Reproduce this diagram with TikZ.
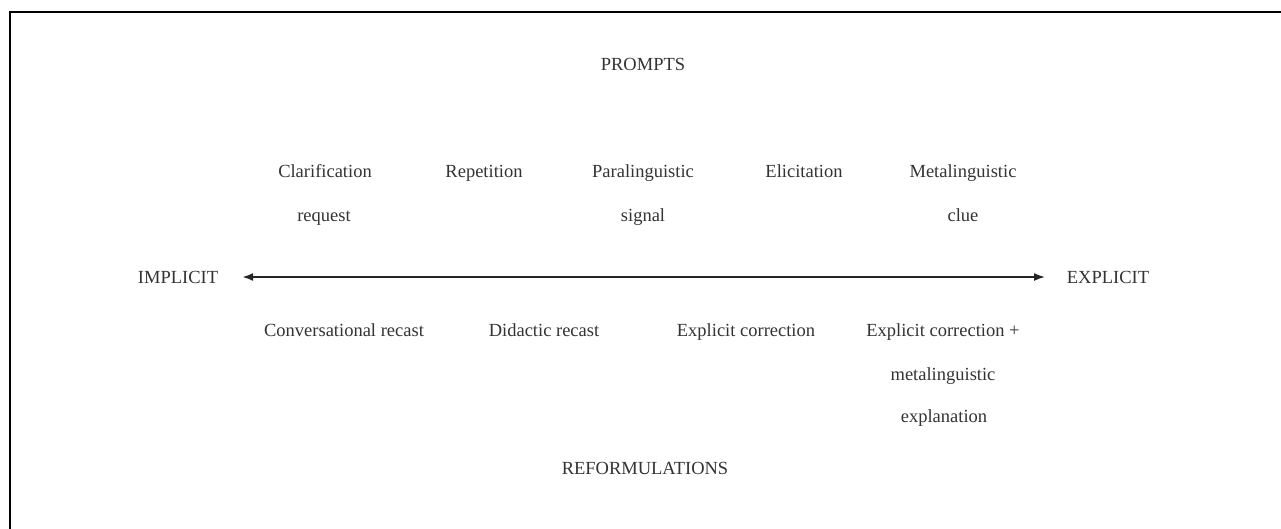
\documentclass[tikz,border=0pt]{standalone}
\usepackage{fontspec}
\setmainfont{Liberation Serif}
\usetikzlibrary{arrows.meta}
\begin{document}
\begin{tikzpicture}[x=1pt,y=-1pt,
  lab/.style={anchor=base,inner sep=0pt,text=black!80,font=\fontsize{18.5}{22}\selectfont},
  axisline/.style={draw=black!85},
  frameline/.style={draw=black,line width=2pt}]
\useasboundingbox (0,0) rectangle (1281,528);
\clip (0,0) rectangle (1281,528);
\draw[frameline] (10.2,540) -- (10.2,11.8) -- (1300,11.8);
% top
\node[lab] (prompts) at (643,70) {PROMPTS};
\node[lab] (clar1) at (325,177) {Clarification};
\node[lab] (clar2) at (324,221) {request};
\node[lab] (rep) at (484,177) {Repetition};
\node[lab] (para1) at (643,177) {Paralinguistic};
\node[lab] (para2) at (643,221) {signal};
\node[lab] (elic) at (804,177) {Elicitation};
\node[lab] (meta1) at (963,177) {Metalinguistic};
\node[lab] (meta2) at (963,221) {clue};
% axis
\node[lab] (impl) at (178,283) {IMPLICIT};
\node[lab] (expl) at (1108,283) {EXPLICIT};
\coordinate (L) at (242,277);
\coordinate (M) at (708,277);
\coordinate (R) at (1045,277);
\draw[axisline,line width=2.2pt,{Latex[length=11pt,width=8pt]}-] (L) -- (M);
\draw[axisline,line width=1.5pt,-{Latex[length=11pt,width=8pt]}] (M) -- (R);
% bottom
\node[lab] (conv) at (344,336) {Conversational recast};
\node[lab] (did) at (544,336) {Didactic recast};
\node[lab] (ec) at (746,336) {Explicit correction};
\node[lab] (ecm1) at (943,336) {Explicit correction +};
\node[lab] (ecm2) at (943,380) {metalinguistic};
\node[lab] (ecm3) at (944,422) {explanation};
\node[lab] (reform) at (645,474) {REFORMULATIONS};
\end{tikzpicture}
\end{document}
